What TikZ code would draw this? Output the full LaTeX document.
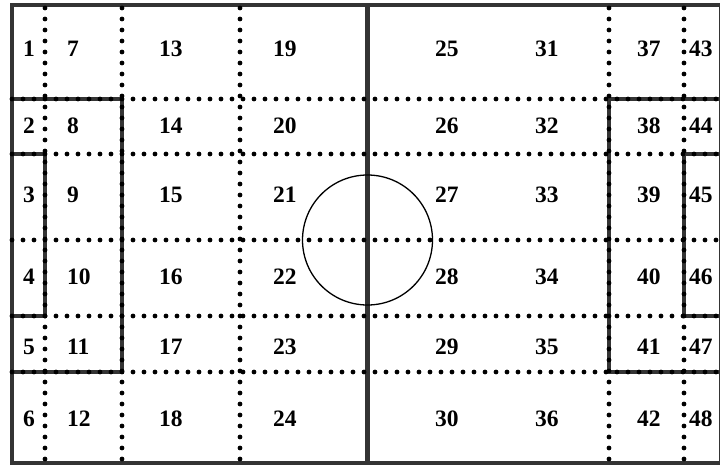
\documentclass[tikz,border=0pt]{standalone}
\usepackage{fontspec}
\setmainfont{Liberation Serif}
\usepackage{tikz}
\definecolor{pitchline}{RGB}{52,52,52}

\begin{document}
\begin{tikzpicture}[
  x=1pt, y=-1pt,
  every node/.style={font=\bfseries\fontsize{23.5}{26}\selectfont},
  pitch/.style={draw=pitchline, line width=4pt},
  zoneline/.style={line width=4.8pt, line cap=round, dash pattern=on 0pt off 11pt},
  zonenum/.style={anchor=west, inner sep=0pt}
]
\useasboundingbox (0,0) rectangle (720,466);

% Pálya
\draw[pitch] (12,5) rectangle (721,463);
\draw[pitch, line width=4.6pt] (367.5,5) -- (367.5,463);
\draw[line width=1.3pt] (367.5,240) circle[radius=65];

% Büntetőterületek
\draw[pitch] (12,99) -| (122,372) -- (12,372);
\draw[pitch] (12,154) -| (45,316) -- (12,316);
\draw[pitch] (721,99) -| (609,372) -- (721,372);
\draw[pitch] (721,154) -| (684,316) -- (721,316);

% Zónahatárok
\foreach \x in {45,122,240,609,684}
  \draw[zoneline] (\x,8) -- (\x,463);
\foreach \y in {99,154,240,316,372}
  \draw[zoneline] (12,\y) -- (720,\y);

% Zónák
\foreach \col/\x in {0/23,1/67,2/159,3/273,4/435,5/535,6/637,7/689} {
  \foreach \row/\y in {1/49,2/126,3/195,4/277,5/347,6/419} {
    \pgfmathtruncatemacro{\n}{6*\col+\row}
    \node[zonenum] (z\n) at (\x,\y) {\n};
  }
}

\end{tikzpicture}
\end{document}
